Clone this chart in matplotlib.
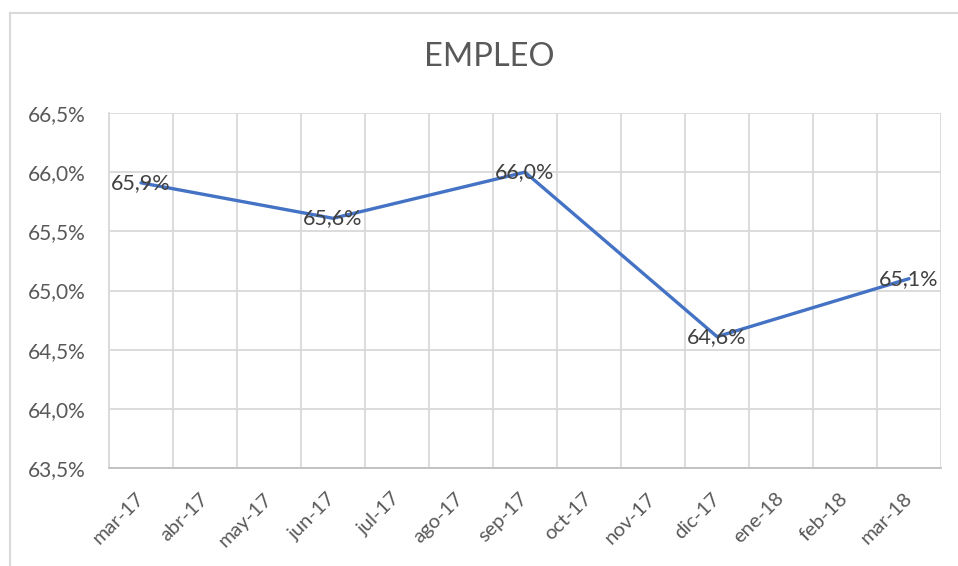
import matplotlib.pyplot as plt
from matplotlib.lines import Line2D

# categories on the x axis (monthly)
months = ["mar-17", "abr-17", "may-17", "jun-17", "jul-17", "ago-17", "sep-17",
          "oct-17", "nov-17", "dic-17", "ene-18", "feb-18", "mar-18"]
# quarterly observations
obs_months = ["mar-17", "jun-17", "sep-17", "dic-17", "mar-18"]
empleo = [65.91, 65.61, 66.00, 64.61, 65.10]

y_ticks = [63.5, 64.0, 64.5, 65.0, 65.5, 66.0, 66.5]

plt.rcParams['font.family'] = ['Lato', 'DejaVu Sans']
txt_color = '#595959'
grid_color = '#d9d9d9'

W, H = 958, 566
fig = plt.figure(figsize=(W / 100, H / 100), dpi=100)
ax = fig.add_axes([109 / W, 1 - 468 / H, (941 - 109) / W, (468 - 113) / H])

xpos = [months.index(m) for m in obs_months]
ax.plot(xpos, empleo, color='#4472C4', lw=2.4, solid_capstyle='round', zorder=3)

for x, v in zip(xpos, empleo):
    ax.text(x, v, "{:.1f}%".format(v).replace('.', ','), ha='center', va='center',
            fontsize=15.5, color='#404040', zorder=4)

ax.set_xlim(-0.5, len(months) - 0.5)
ax.set_ylim(63.5, 66.5)

# vertical gridlines between categories
ax.set_xticks([i - 0.5 for i in range(len(months) + 1)], minor=False)
ax.set_xticklabels([])
ax.set_xticks(range(len(months)), minor=True)
ax.set_xticklabels(months, minor=True, rotation=45, ha='right', va='center',
                   rotation_mode='anchor', fontsize=14.5, color=txt_color)
ax.tick_params(axis='x', which='both', length=0)
ax.tick_params(axis='x', which='minor', pad=20)
ax.grid(axis='x', which='major', color=grid_color, lw=1.3)

ax.set_yticks(y_ticks)
ax.set_yticklabels(["{:.1f}%".format(t).replace('.', ',') for t in y_ticks],
                   fontsize=15, color=txt_color)
ax.tick_params(axis='y', length=0, pad=17)
ax.grid(axis='y', color=grid_color, lw=1.3)
ax.set_axisbelow(True)

for s in ['top', 'right']:
    ax.spines[s].set_visible(False)
ax.spines['left'].set_color(grid_color)
ax.spines['left'].set_linewidth(1.3)
ax.spines['bottom'].set_color('#bfbfbf')
ax.spines['bottom'].set_linewidth(1.3)

fig.text(489 / W, 1 - 57 / H, "EMPLEO", ha='center', va='center',
         fontsize=23.5, color=txt_color)

# chart area frame (only top and left visible)
fig.add_artist(Line2D([10 / W, 1], [1 - 13 / H, 1 - 13 / H], color='#d9d9d9', lw=1.5,
                      transform=fig.transFigure))
fig.add_artist(Line2D([10 / W, 10 / W], [0, 1 - 13 / H], color='#d9d9d9', lw=1.5,
                      transform=fig.transFigure))

fig.savefig("out.png", dpi=100)
